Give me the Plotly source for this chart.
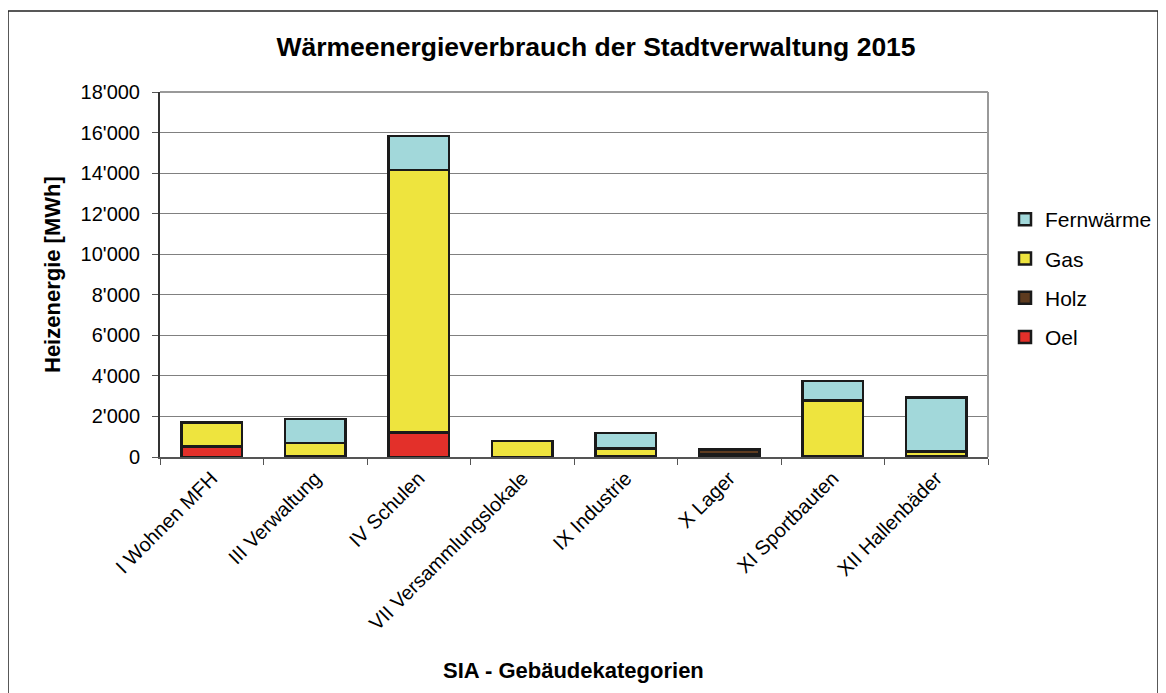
import plotly.graph_objects as go

categories = ["I Wohnen MFH", "III Verwaltung", "IV Schulen", "VII Versammlungslokale",
              "IX Industrie", "X Lager", "XI Sportbauten", "XII Hallenbäder"]
oel = [530, 60, 1200, 0, 30, 120, 40, 30]
holz = [0, 0, 0, 0, 0, 250, 0, 0]
gas = [1170, 640, 12950, 800, 380, 0, 2740, 230]
fernwaerme = [0, 1170, 1680, 0, 770, 0, 980, 2665]
y_ticks = [0, 2000, 4000, 6000, 8000, 10000, 12000, 14000, 16000, 18000]
y_ticktext = ["0", "2'000", "4'000", "6'000", "8'000", "10'000", "12'000",
              "14'000", "16'000", "18'000"]

colors = {"Oel": "#E3302A", "Holz": "#5E3B1F", "Gas": "#EEE43E", "Fernwärme": "#A2D8DA"}
ranks = {"Fernwärme": 1, "Gas": 2, "Holz": 3, "Oel": 4}
FONT = "Liberation Sans, Arial, sans-serif"

fig = go.Figure()
for name, vals in [("Oel", oel), ("Holz", holz), ("Gas", gas), ("Fernwärme", fernwaerme)]:
    fig.add_trace(go.Bar(
        x=categories, y=vals, name=name, legendgroup=name, legendrank=ranks[name],
        marker=dict(color=colors[name], line=dict(color="#1a1a1a", width=2.5)),
        width=0.58,
    ))

# page body adds 8px offset; layout coords below are render coords minus 8
W, H = 1166, 693
L, R, T, B = 152, 980, 84, 449
pw, ph = R - L, B - T

def px_x(x):
    return (x - L) / pw

def px_y(y):
    return (B - y) / ph

fig.update_layout(
    width=W, height=H,
    barmode="stack",
    paper_bgcolor="white", plot_bgcolor="white",
    margin=dict(l=L, r=W - R, t=T, b=H - B, autoexpand=False),
    font=dict(family=FONT, size=20, color="black"),
    title=dict(text="<b>Wärmeenergieverbrauch der Stadtverwaltung 2015</b>",
               x=588 / W, xanchor="center", y=1 - 39 / H, yanchor="middle",
               font=dict(size=26.5, family=FONT)),
    legend=dict(traceorder="grouped", x=px_x(997), xanchor="left",
                y=px_y(191), yanchor="top", font=dict(size=21),
                itemwidth=30, tracegroupgap=9, bgcolor="rgba(0,0,0,0)"),
    showlegend=True,
    xaxis=dict(
        tickangle=-45, tickson="boundaries", ticks="outside", ticklen=6,
        tickcolor="#555", showline=True, linecolor="#555", linewidth=1.5,
        tickfont=dict(size=20), automargin=False,
    ),
    yaxis=dict(
        range=[0, 18000], tickvals=y_ticks, ticktext=y_ticktext,
        ticks="outside", ticklen=6, tickcolor="#555", ticklabelstandoff=8,
        showline=True, linecolor="#333", linewidth=2,
        showgrid=True, gridcolor="#808080", gridwidth=1,
        tickfont=dict(size=20), automargin=False,
        zeroline=False,
    ),
    annotations=[
        dict(text="<b>SIA - Gebäudekategorien</b>", xref="paper", yref="paper",
             x=px_x(565), y=px_y(662), xanchor="center", yanchor="middle",
             showarrow=False, font=dict(size=22)),
        dict(text="<b>Heizenergie [MWh]</b>", xref="paper", yref="paper",
             x=px_x(44), y=px_y(267), xanchor="center", yanchor="middle",
             textangle=-90, showarrow=False, font=dict(size=22)),
    ],
)

# right and top border of plot area
fig.add_shape(type="line", xref="paper", yref="paper", x0=1, x1=1, y0=0, y1=1,
              line=dict(color="#999", width=2))
fig.add_shape(type="line", xref="paper", yref="paper", x0=0, x1=1, y0=1, y1=1,
              line=dict(color="#999", width=2))
# outer chart border
fig.add_shape(type="rect", xref="paper", yref="paper",
              x0=px_x(0), x1=px_x(1150), y0=px_y(700), y1=px_y(3),
              line=dict(color="#222", width=1.5), layer="below")

fig.write_html("out.html")
